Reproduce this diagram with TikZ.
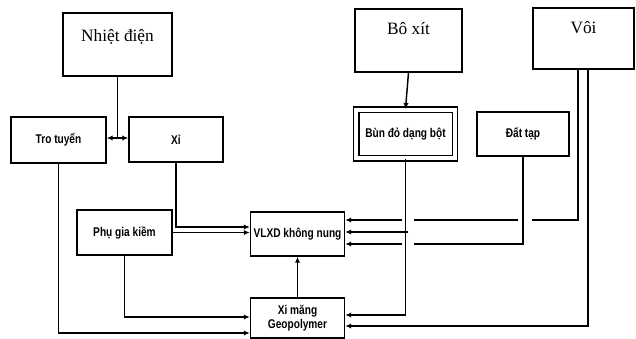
\documentclass[tikz,border=0pt]{standalone}
\usepackage{fontspec}
\setmainfont{Liberation Serif}
\newfontfamily\narrowsf[FakeStretch=0.8]{Liberation Sans}
\usetikzlibrary{arrows.meta,calc}
\tikzset{
  box/.style={draw, line width=1.1pt, inner sep=0pt, fill=white},
  bigbox/.style={box, font=\fontsize{13}{15}\selectfont},
  smallbox/.style={box, font=\narrowsf\bfseries\fontsize{9.5}{11}\selectfont, align=center},
  arr/.style={line width=1.1pt, -{Latex[length=4.5pt,width=4pt]}},
  ln/.style={line width=1.1pt}
}

\begin{document}
\begin{tikzpicture}[x=0.75pt,y=0.75pt,yscale=-1,xscale=1]
\useasboundingbox (0,0) rectangle (636,339);

% nguon nguyen lieu
\node [bigbox, minimum width=81.75pt, text height=21pt, text depth=26.25pt] (nd) at (117.5,44.5) {Nhiệt điện};
\node [bigbox, minimum width=80.25pt, text height=19.5pt, text depth=27.75pt] (bx) at (408.5,40.5) {Bô xít};
\node [bigbox, minimum width=75.75pt, text height=18.75pt, text depth=27pt] (voi) at (583.5,38.5) {Vôi};

\node [smallbox, minimum width=71.25pt, minimum height=34.5pt] (tro) at (58.5,140) {Tro tuyển};
\node [smallbox, minimum width=70.5pt, minimum height=33.75pt] (xi) at (176,139.5) {Xỉ};
\node [smallbox, minimum width=74pt, minimum height=36.5pt, double, double distance=2.8pt] (bun) at (405.5,134) {Bùn đỏ dạng bột};
\node [smallbox, minimum width=69pt, minimum height=33pt] (dat) at (523,134) {Đất tạp};
\node [smallbox, minimum width=71.25pt, minimum height=33.75pt] (phu) at (124.5,232.5) {Phụ gia kiềm};

% san pham
\node [smallbox, minimum width=70.5pt, minimum height=33pt] (vlxd) at (297.5,234) {VLXD không nung};
\node [smallbox, minimum width=70.5pt, minimum height=30pt] (xm) at (297.5,318) {Xi măng\\Geopolymer};

% nhiet dien
\coordinate (j) at (nd.south |- 0,138);
\draw [ln] (nd.south) -- (j);
\draw [arr] (j) -- (j -| tro.east);
\draw [arr] (j) -- (j -| xi.west);

\draw [arr] (bx.south) -- (bun.north);

% vao VLXD ben trai
\draw [arr] (xi.south) |- (vlxd.west |- 0,227);
\draw [arr] (phu.east) -- (vlxd.west |- phu.east);
\draw [arr] (xm.north) -- (vlxd.south);

% vao xi mang ben trai
\draw [arr] (phu.south) |- (xm.west |- 0,317);
\draw [arr] (tro.south) |- (xm.west |- 0,333);

% ben phai
\coordinate (v1) at (578,0);
\coordinate (v2) at (588,0);
\draw [ln] (v1 |- voi.south) |- (532,220);
\draw [ln] (518,220) -- (414,220);
\draw [arr] (402,220) -- (vlxd.east |- 0,220);
\draw [arr] (408,232) -- (vlxd.east |- 0,232);
\draw [ln] (dat.south) |- (414,244);
\draw [arr] (402,244) -- (vlxd.east |- 0,244);
\draw [arr] (bun.south) |- (xm.east |- 0,315);
\draw [arr] (v2 |- voi.south) |- (xm.east |- 0,326);
\end{tikzpicture}
\end{document}
